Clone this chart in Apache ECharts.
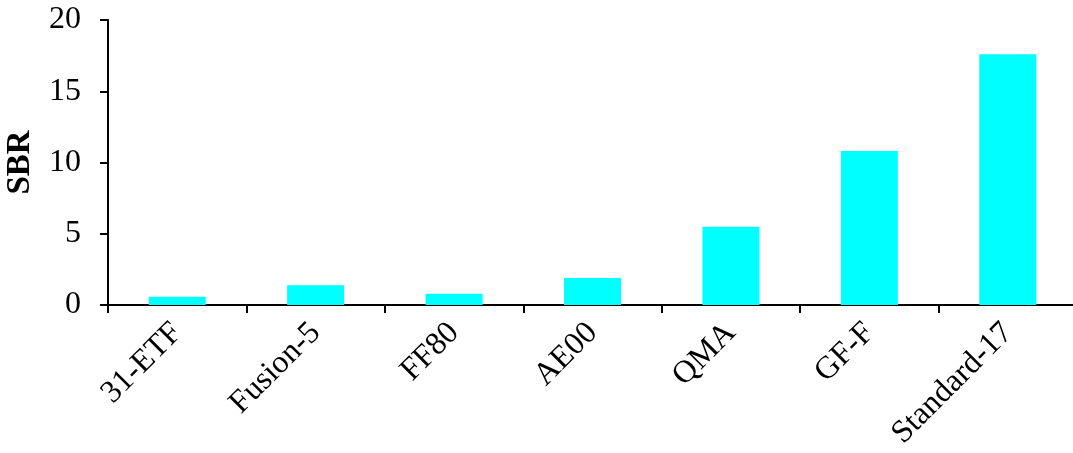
<!DOCTYPE html>
<html>
<head>
<meta charset="utf-8">
<script src="https://cdn.jsdelivr.net/npm/echarts@6/dist/echarts.min.js"></script>
<style>
html,body{margin:0;padding:0;background:#fff;}
#chart{width:1073px;height:453px;}
</style>
</head>
<body>
<div id="chart"></div>
<script>
var categories = ["31-ETF", "Fusion-5", "FF80", "AE00", "QMA", "GF-F", "Standard-17"];
var sbrValues = [0.58, 1.38, 0.79, 1.89, 5.49, 10.81, 17.59];
var yTicks = [0, 5, 10, 15, 20];

var font = "'Liberation Serif', 'Times New Roman', serif";
var chart = echarts.init(document.getElementById('chart'));
chart.setOption({
  animation: false,
  backgroundColor: '#ffffff',
  grid: {left: 108, top: 20, right: -4, height: 285, containLabel: false, outerBoundsMode: 'none'},
  xAxis: {
    type: 'category',
    data: categories,
    boundaryGap: true,
    axisLine: {lineStyle: {color: '#000', width: 2}},
    axisTick: {show: true, alignWithLabel: false, length: 8, lineStyle: {color: '#000', width: 2}},
    axisLabel: {rotate: 45, color: '#000', fontFamily: font, fontSize: 32, margin: 23, interval: 0}
  },
  yAxis: {
    type: 'value',
    min: yTicks[0],
    max: yTicks[yTicks.length - 1],
    interval: 5,
    name: 'SBR',
    nameLocation: 'middle',
    nameGap: 71,
    nameTextStyle: {color: '#000', fontFamily: font, fontSize: 33, fontWeight: 'bold'},
    axisLine: {show: true, lineStyle: {color: '#000', width: 2}},
    axisTick: {show: true, length: 8, lineStyle: {color: '#000', width: 2}},
    axisLabel: {color: '#000', fontFamily: font, fontSize: 32, margin: 27},
    splitLine: {show: false}
  },
  series: [{
    type: 'bar',
    data: sbrValues,
    barWidth: 57,
    itemStyle: {color: '#00FFFF'}
  }]
});
</script>
</body>
</html>
